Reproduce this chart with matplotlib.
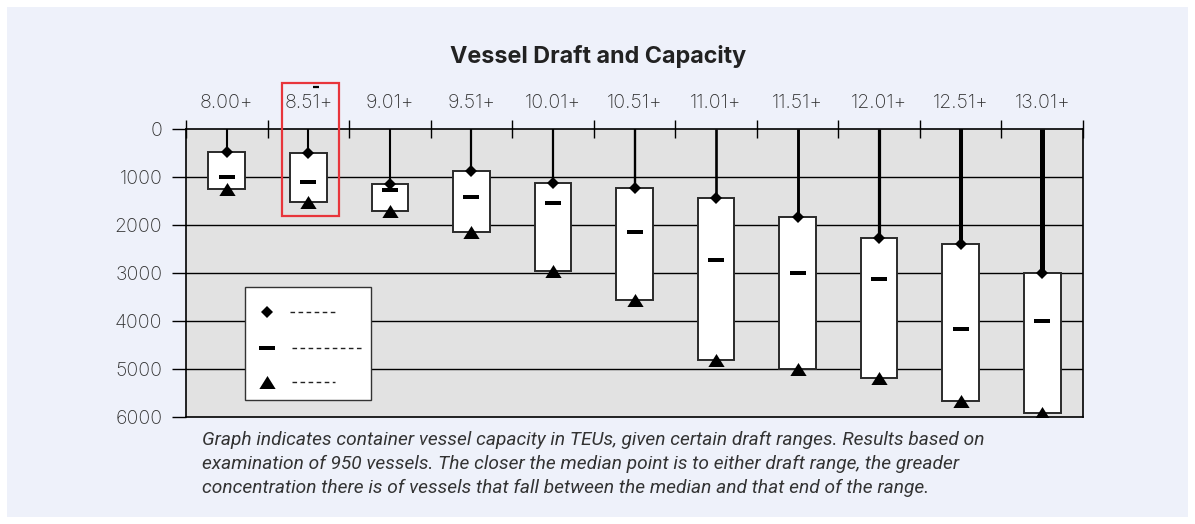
import matplotlib
matplotlib.use('Agg')
from matplotlib import pyplot as plt
from matplotlib.patches import Rectangle

# Draft ranges (metres) and container capacity in TEUs
drafts = ['8.00+', '8.51+', '9.01+', '9.51+', '10.01+', '10.51+',
          '11.01+', '11.51+', '12.01+', '12.51+', '13.01+']
min_teu = [470, 510, 1150, 870, 1115, 1230, 1435, 1825, 2275, 2400, 3010]
median_teu = [1010, 1100, 1270, 1425, 1550, 2150, 2720, 3005, 3125, 4175, 4005]
max_teu = [1255, 1520, 1700, 2150, 2958, 3562, 4812, 4990, 5194, 5660, 5925]
y_ticks = [0, 1000, 2000, 3000, 4000, 5000, 6000]

caption = [
    'Graph indicates container vessel capacity in TEUs, given certain draft ranges. Results based on',
    'examination of 950 vessels. The closer the median point is to either draft range, the greader',
    'concentration there is of vessels that fall between the median and that end of the range.',
]

# whiskers get heavier as the draft goes up
whisker_widths = [1.5, 1.5, 1.5, 1.6, 1.6, 1.7, 1.9, 2.1, 2.3, 2.9, 3.6]

BG = '#eef1fa'
PLOT_BG = '#e2e2e2'
TXT = '#333333'
tick_font = dict(family=['Inter', 'DejaVu Sans'], fontsize=14, color=TXT, fontweight='light')

fig = plt.figure(figsize=(11.95, 5.24), dpi=100, facecolor='white')
fig.patches.append(Rectangle((7 / 1195, 7 / 524), 1181 / 1195, 510 / 524,
                             transform=fig.transFigure, facecolor=BG,
                             edgecolor='none', zorder=-10))

ax = fig.add_axes([186 / 1195, 1 - 417 / 524, 897 / 1195, 288 / 524])
ax.set_facecolor(PLOT_BG)
ax.set_xlim(0, len(drafts))
ax.set_ylim(6000, 0)

# horizontal grid
for v in y_ticks[1:-1]:
    ax.axhline(v, color='black', lw=1.0, zorder=1)

tri = [(-1, -0.8), (1, -0.8), (0, 0.8)]
dash = [(-1.6, -0.5), (1.6, -0.5), (1.6, 0.5), (-1.6, 0.5)]
box_w = 0.45

for i, name in enumerate(drafts):
    xc = i + 0.5
    ax.plot([xc, xc], [0, min_teu[i]], color='black', lw=whisker_widths[i],
            solid_capstyle='butt', zorder=2)
    ax.add_patch(Rectangle((xc - box_w / 2, min_teu[i]), box_w, max_teu[i] - min_teu[i],
                           facecolor='white', edgecolor='#2a2a2a', lw=1.4, zorder=3))
    ax.plot(xc, min_teu[i], marker='D', ms=6.5, color='black', mew=0, zorder=4)
    ax.plot(xc, median_teu[i], marker=dash, ms=11.5, color='black', mew=0, zorder=4)
    ax.plot(xc, max_teu[i], marker=tri, ms=11.7, color='black', mew=0, zorder=4)

# axes styling
for s in ax.spines.values():
    s.set_color('black')
    s.set_linewidth(1.2)

ax.xaxis.tick_top()
ax.set_xticks(range(len(drafts) + 1))
ax.set_xticklabels([])
ax.tick_params(axis='x', which='major', direction='inout', length=12.5, width=1.0, color='black')
ax.set_xticks([i + 0.5 for i in range(len(drafts))], minor=True)
ax.set_xticklabels(drafts, minor=True, **tick_font)
ax.tick_params(axis='x', which='minor', length=0, pad=12)

ax.set_yticks(y_ticks)
ax.set_yticklabels([str(v) for v in y_ticks], **tick_font)
ax.tick_params(axis='y', direction='out', length=10, width=1.0, color='black', pad=7)

# legend box with placeholder text
ax.add_patch(Rectangle((0.0658, 0.059), 0.1404, 0.3924, transform=ax.transAxes,
                       facecolor='white', edgecolor='#333333', lw=1.0, zorder=5))
lx = 0.0903
for marker, ms, ly, x1 in [('D', 6.5, 0.3646, 0.1683), (dash, 11.5, 0.2396, 0.1973),
                           (tri, 11.7, 0.1215, 0.1661)]:
    ax.plot(lx, ly, marker=marker, ms=ms, color='black', mew=0,
            transform=ax.transAxes, zorder=6, clip_on=False)
    x0 = 0.1159 if marker == 'D' else 0.1182
    ax.plot([x0, x1], [ly, ly], color='#222222', lw=1.0, dashes=(3.3, 2.5),
            transform=ax.transAxes, zorder=6)

# red highlight round the 8.51+ column
ax.add_patch(Rectangle((1.177, -958), 0.699, 2770, facecolor='none',
                       edgecolor='#e8353b', lw=1.6, zorder=7, clip_on=False))
ax.plot([1.56, 1.63], [-875, -875], color='black', lw=1.6, clip_on=False,
        solid_capstyle='butt', zorder=7)

fig.text(598 / 1195, 1 - 63 / 524, 'Vessel Draft and Capacity', ha='center',
         va='baseline', fontsize=16.8, fontweight='bold', color='#222222',
         family=['Inter', 'DejaVu Sans'])

for k, line in enumerate(caption):
    fig.text(202 / 1195, 1 - (445 + 24 * k) / 524, line, ha='left', va='baseline',
             fontsize=13.8, style='italic', color=TXT,
             family=['Roboto', 'DejaVu Sans'])

fig.savefig('out.png', dpi=100, facecolor='white')
